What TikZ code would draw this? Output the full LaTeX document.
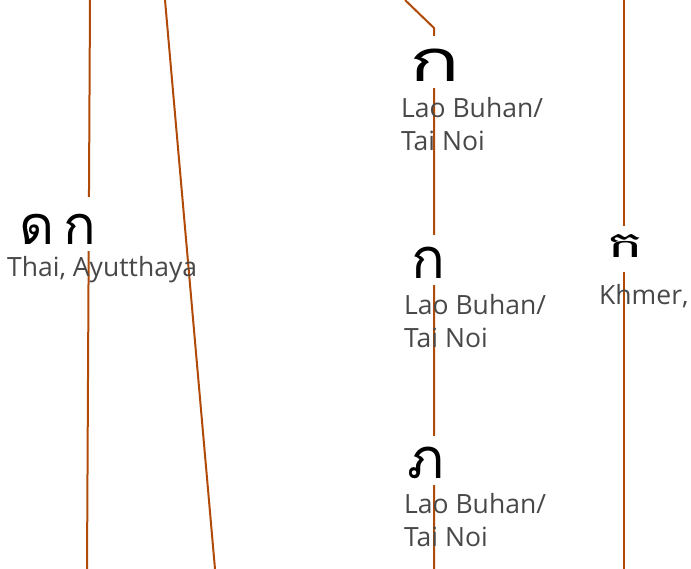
\documentclass[tikz,border=0pt]{standalone}
\usepackage{fontspec}
\setmainfont{Open Sans}
\newfontfamily\thaifont[Script=Thai]{Loma}
\newfontfamily\khmerfont[Script=Khmer]{Battambang}
\usetikzlibrary{positioning}
\definecolor{linkbrown}{RGB}{176,74,8}
\definecolor{labelgray}{RGB}{72,72,72}

\begin{document}
\begin{tikzpicture}[x=1pt, y=-1pt,
    link/.style={draw=linkbrown, line width=2pt},
    glyphbox/.style={fill=white, inner sep=0pt},
    glyph/.style={text=black, inner sep=0pt, anchor=base, text height=0.6em, text depth=0pt},
    lbl/.style={anchor=base west, text=labelgray, font=\fontsize{26.5}{33}\selectfont, align=left, inner sep=0pt}]
    \useasboundingbox (0,0) rectangle (691,569);

    % ends of the lines
    \coordinate (a0) at (90,0);
    \coordinate (a1) at (87,569);
    \coordinate (b0) at (165,0);
    \coordinate (b1) at (215,569);
    \coordinate (c0) at (405,0);
    \coordinate (cbend) at (434,28);
    \coordinate (c1) at (434,569);
    \coordinate (d0) at (624,0);
    \coordinate (d1) at (624,569);

    \draw[link] (a0) -- (a1);
    \draw[link] (b0) -- (b1);
    \draw[link] (c0) -- (cbend) -- (c1);
    \draw[link] (d0) -- (d1);

    % Thai
    \node[glyphbox, minimum width=97pt, minimum height=54pt] (thai) at (57,224) {};
    \node[glyph, font=\thaifont\fontsize{54}{54}\selectfont] (thaiglyph) at (58,245) {ด\,ก};
    \node[lbl] (thaitxt) at (7,277) {Thai, Ayutthaya};

    % Lao Buhan
    \node[glyphbox, minimum width=57pt, minimum height=52pt] (lao1) at (434,62) {};
    \node[glyph, font=\thaifont\fontsize{58}{58}\selectfont, transform shape, xscale=1.45] (lao1glyph) at (435,82) {ก};
    \node[lbl] (lao1txt) at (401,151) {Lao Buhan/\\Tai Noi};

    \node[glyphbox, minimum width=43pt, minimum height=50pt] (lao2) at (428,260) {};
    \node[glyph, font=\thaifont\fontsize{56}{56}\selectfont] (lao2glyph) at (428,279) {ก};
    \node[lbl] (lao2txt) at (404,348) {Lao Buhan/\\Tai Noi};

    \node[glyphbox, minimum width=38pt, minimum height=49pt] (lao3) at (426,460) {};
    \node[glyph, font=\thaifont\fontsize{56}{56}\selectfont] (lao3glyph) at (426,478) {ภ};
    \node[lbl] (lao3txt) at (404,546) {Lao Buhan/\\Tai Noi};

    % Khmer
    \node[glyphbox, minimum width=50pt, minimum height=46pt] (khmer) at (626,249) {};
    \node[glyph, font=\khmerfont\fontsize{36}{36}\selectfont, transform shape, xscale=1.7] (khmerglyph) at (626,258) {ក};
    \node[lbl] (khmertxt) at (599,305) {Khmer,};
\end{tikzpicture}
\end{document}
